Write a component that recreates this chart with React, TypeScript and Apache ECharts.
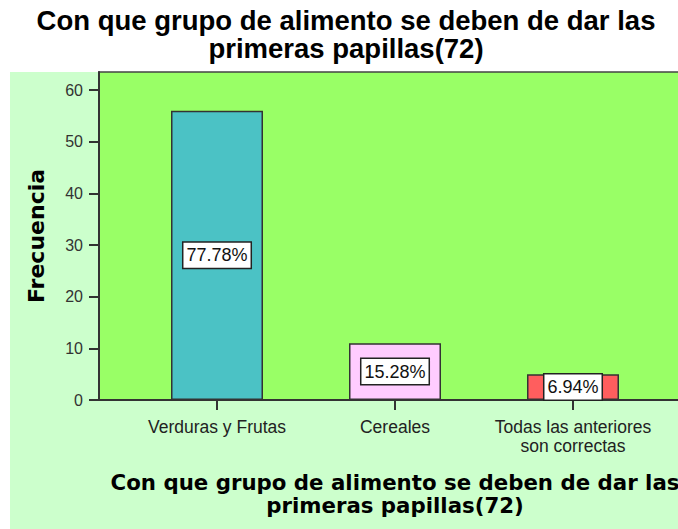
import React, { useEffect, useRef } from "react";
import * as echarts from "echarts";

const categories = ["Verduras y Frutas", "Cereales", "Todas las anteriores\nson correctas"];
const frequencies = [56, 11, 5];
const percentLabels = ["77.78%", "15.28%", "6.94%"];
const barColors = ["#4BC2C5", "#FFCCFF", "#FF5E5E"];
const yTickValues = [0, 10, 20, 30, 40, 50, 60];
const titleText = "Con que grupo de alimento se deben de dar las\nprimeras papillas(72)";
const yAxisTitle = "Frecuencia";
const yMax = 63.5;

export default function App() {
  const ref = useRef<HTMLDivElement>(null);
  useEffect(() => {
    if (!ref.current) return;
    const chart = echarts.init(ref.current, null, { renderer: "svg" });
    const option: any = {
      animation: false,
      backgroundColor: "#ffffff",
      graphic: [
        {
          type: "rect",
          z: -100,
          silent: true,
          shape: { x: 10, y: 72, width: 700, height: 470 },
          style: { fill: "#CCFFCC" },
        },
        {
          type: "text",
          x: 346,
          y: 6,
          z: 10,
          style: {
            text: titleText,
            fill: "#000",
            font: 'bold 27.5px "Liberation Sans", Arial, sans-serif',
            textAlign: "center",
            lineHeight: 28,
          },
        },
      ],
      grid: [
        {
          left: 99,
          right: -13,
          top: 72,
          bottom: 129,
          outerBoundsMode: "none",
          containLabel: false,
          show: true,
          backgroundColor: "#99FF66",
          borderColor: "#444",
          borderWidth: 1.5,
          z: 0,
        },
        {
          left: 128,
          right: 16,
          top: 72,
          bottom: 129,
          outerBoundsMode: "none",
          containLabel: false,
        },
      ],
      xAxis: [
        {
          gridIndex: 0,
          type: "value",
          min: 0,
          max: 1,
          axisLine: { show: true, lineStyle: { color: "#333", width: 2 } },
          axisTick: { show: false },
          axisLabel: { show: false },
          splitLine: { show: false },
          name: titleText,
          nameLocation: "middle",
          nameGap: 71,
          nameTextStyle: {
            fontFamily: '"DejaVu Sans", sans-serif',
            fontWeight: "bold",
            fontSize: 21.3,
            lineHeight: 23,
            color: "#000",
            align: "center",
          },
        },
        {
          gridIndex: 1,
          type: "category",
          data: categories,
          axisLine: { show: false },
          axisTick: {
            show: true,
            alignWithLabel: true,
            length: 10,
            lineStyle: { color: "#333", width: 2 },
          },
          axisLabel: {
            interval: 0,
            fontFamily: '"Liberation Sans", Arial, sans-serif',
            fontSize: 17.5,
            lineHeight: 19,
            color: "#222",
            margin: 17,
          },
        },
      ],
      yAxis: [
        {
          gridIndex: 0,
          type: "value",
          min: 0,
          max: yMax,
          interval: 10,
          axisLine: { show: true, lineStyle: { color: "#333", width: 2 } },
          axisTick: {
            show: true,
            length: 10,
            customValues: yTickValues,
            lineStyle: { color: "#333", width: 2 },
          },
          axisLabel: {
            customValues: yTickValues,
            fontFamily: '"Liberation Sans", Arial, sans-serif',
            fontSize: 16,
            color: "#333",
            margin: 16,
          },
          splitLine: { show: false },
          name: yAxisTitle,
          nameLocation: "middle",
          nameGap: 52,
          nameTextStyle: {
            fontFamily: '"DejaVu Sans", sans-serif',
            fontWeight: "bold",
            fontSize: 22,
            color: "#000",
          },
        },
        {
          gridIndex: 1,
          type: "value",
          min: 0,
          max: yMax,
          show: false,
          splitLine: { show: false },
        },
      ],
      series: [
        {
          type: "bar",
          xAxisIndex: 1,
          yAxisIndex: 1,
          barWidth: 92,
          data: frequencies.map((v, i) => ({
            value: v,
            itemStyle: { color: barColors[i], borderColor: "#333", borderWidth: 1.5 },
          })),
          label: {
            show: true,
            position: "inside",
            formatter: (p: any) => percentLabels[p.dataIndex],
            fontFamily: '"Liberation Sans", Arial, sans-serif',
            fontSize: 18,
            color: "#111",
            backgroundColor: "#ffffff",
            borderColor: "#222",
            borderWidth: 1.5,
            padding: [4, 3, 3, 3],
          },
        },
      ],
    };
    chart.setOption(option);
    return () => chart.dispose();
  }, []);
  return (
    <div
      ref={ref}
      style={{ position: "absolute", left: 0, top: 0, width: 678, height: 529 }}
    />
  );
}
